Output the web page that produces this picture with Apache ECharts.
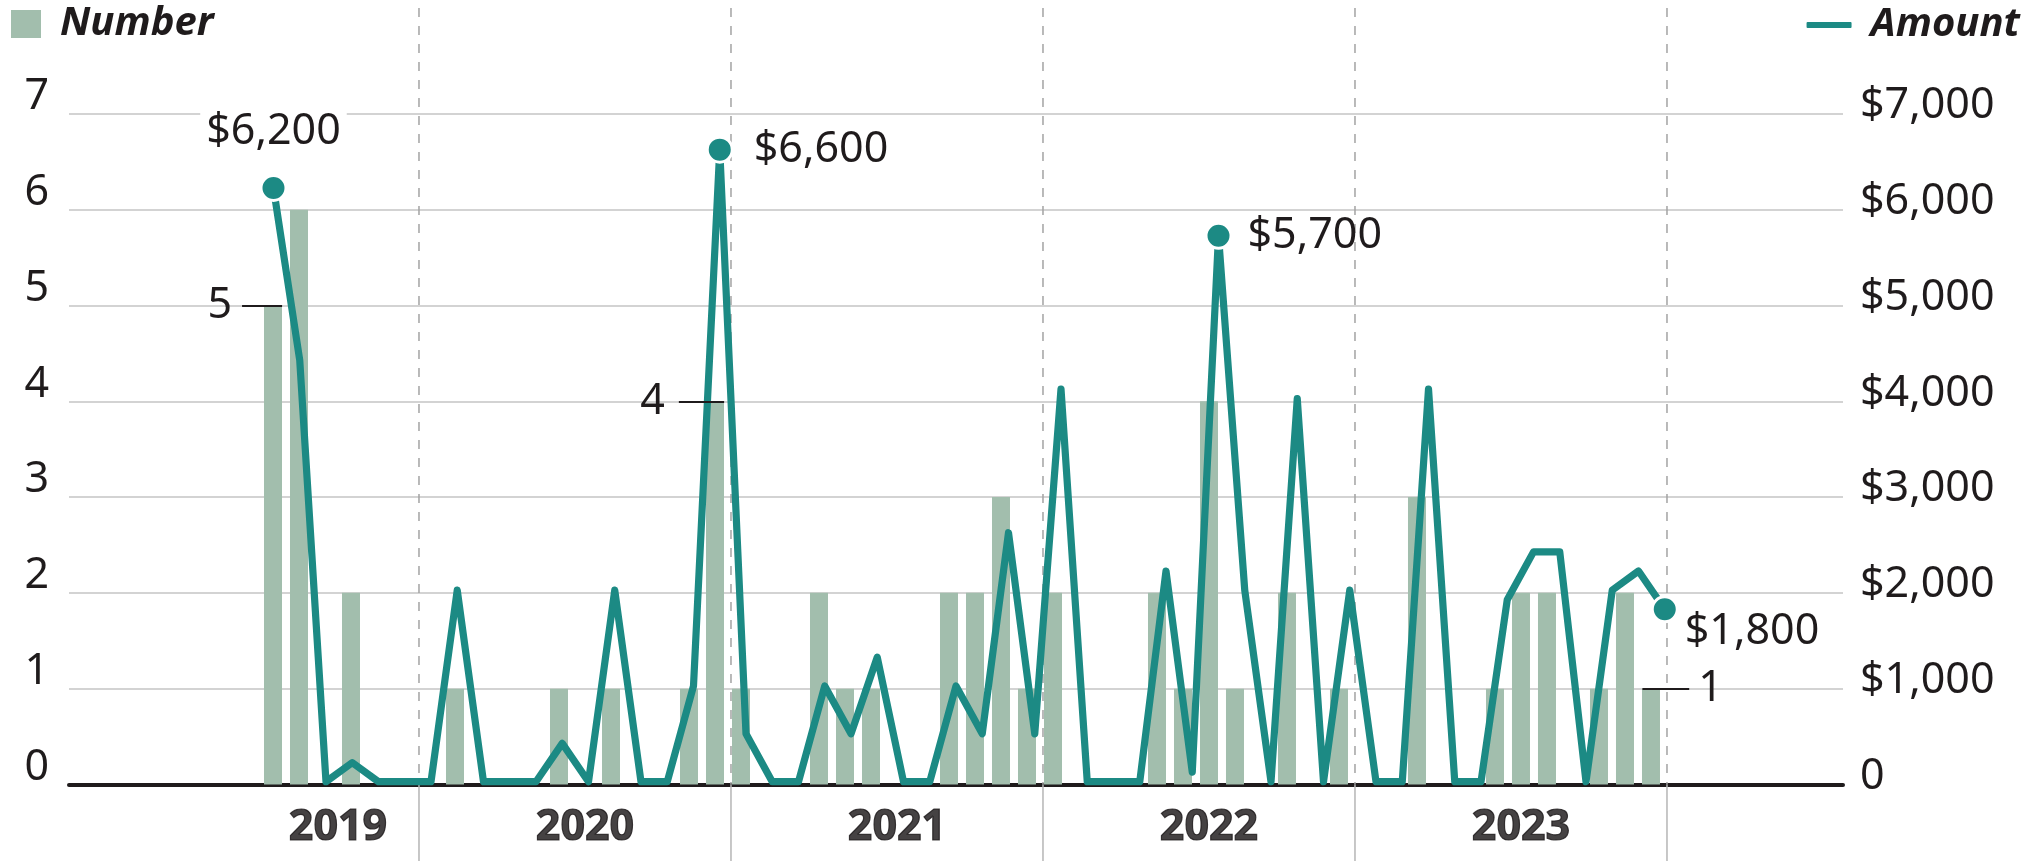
<!DOCTYPE html>
<html>
<head>
<meta charset="utf-8">
<style>
  html, body { margin: 0; padding: 0; background: #fff; }
  #chart { width: 2040px; height: 861px; }
</style>
<script src="https://cdn.jsdelivr.net/npm/echarts@6/dist/echarts.min.js"></script>
</head>
<body>
<div id="chart"></div>
<script>
// ---------------- DATA ----------------
// Bars: number of cases per month (months with no bar have 0)
const countMonths = ['2019-07','2019-08','2019-10','2020-02','2020-06','2020-08','2020-11','2020-12',
                     '2021-01','2021-04','2021-05','2021-06','2021-09','2021-10','2021-11','2021-12',
                     '2022-01','2022-05','2022-06','2022-07','2022-08','2022-10','2022-12',
                     '2023-03','2023-06','2023-07','2023-08','2023-10','2023-11','2023-12'];
const countValues = [5,6,2,1,1,1,1,4,
                     1,2,1,1,2,2,3,1,
                     2,2,1,4,1,2,1,
                     3,1,2,2,1,2,1];

// Line: amount per month, July 2019 .. December 2023
const amountStart = '2019-07';
const amount2019 = [6200, 4400, 0, 200, 0, 0];
const amount2020 = [0, 2000, 0, 0, 0, 400, 0, 2000, 0, 0, 1000, 6600];
const amount2021 = [500, 0, 0, 1000, 500, 1300, 0, 0, 1000, 500, 2600, 500];
const amount2022 = [4100, 0, 0, 0, 2200, 100, 5700, 2000, 0, 4000, 0, 2000];
const amount2023 = [0, 0, 4100, 0, 0, 1900, 2400, 2400, 0, 2000, 2200, 1800];

const yearLabels = ['2019', '2020', '2021', '2022', '2023'];
const leftTicks = [0, 1, 2, 3, 4, 5, 6, 7];
const rightTicks = [0, 1000, 2000, 3000, 4000, 5000, 6000, 7000];

const highlightedAmounts = ['2019-07', '2020-12', '2022-07', '2023-12'];
const annotatedCounts = ['2019-07', '2020-12', '2023-12'];

// ---------------- HELPERS ----------------
const amountValues = [].concat(amount2019, amount2020, amount2021, amount2022, amount2023);
const baseYear = +yearLabels[0];
function monthIndex(s) { const [y, m] = s.split('-').map(Number); return (y - baseYear) * 12 + (m - 1); }
const amountStartIdx = monthIndex(amountStart);
const fmtMoney = v => v === 0 ? '0' : '$' + v.toLocaleString('en-US');

const TEAL = '#1c8a84';
const SAGE = '#a2bead';
const INK = '#1f1b1c';
const FONT = 'Noto Sans';
const janOffset = -0.385; // where Jan 1 falls relative to month bar centres

// bar data
const barData = countMonths.map((s, i) => [monthIndex(s), countValues[i]]);

// line data (own x scale, index from first month)
const labelCfg = {
  '2019-07': { position: 'top', distance: 20, backgroundColor: '#fff', padding: [4, 6, 0, 6] },
  '2020-12': { position: 'right', distance: 20 },
  '2022-07': { position: 'right', distance: 15 },
  '2023-12': { position: 'right', distance: 6, offset: [0, 22] }
};
const lineData = amountValues.map((v, j) => {
  const mIdx = amountStartIdx + j;
  const key = (baseYear + Math.floor(mIdx / 12)) + '-' + String(mIdx % 12 + 1).padStart(2, '0');
  if (highlightedAmounts.includes(key)) {
    return {
      value: [j, v], symbol: 'circle', symbolSize: 25,
      label: Object.assign({ show: true, formatter: fmtMoney(v), fontSize: 43, color: INK,
        fontFamily: FONT, lineHeight: 44 }, labelCfg[key])
    };
  }
  return { value: [j, v], symbol: 'none' };
});

// annotation lines for selected bars
const annoGeom = {
  '2019-07': { from: -1.19, to: 0.35, pos: 'start', dist: 10 },
  '2020-12': { from: -1.39, to: 0.35, pos: 'start', dist: 14 },
  '2023-12': { from: -0.33, to: 1.47, pos: 'end', dist: 9 }
};
const annoData = annotatedCounts.map(s => {
  const m = monthIndex(s);
  const v = countValues[countMonths.indexOf(s)];
  const g = annoGeom[s];
  return [
    { coord: [m + g.from, v], label: { show: true, position: g.pos, distance: g.dist, formatter: String(v) } },
    { coord: [m + g.to, v] }
  ];
});

// year labels: centred on July for full years, on the covered months for partial years
const yearLabelData = yearLabels.map(y => {
  const start = (+y - baseYear) * 12;
  const lo = Math.max(start, amountStartIdx);
  const pos = lo > start ? (lo + start + 11) / 2 : start + 6;
  return { value: [pos, 0], label: { formatter: y } };
});

// year separators (Jan 1 of each following year)
const sepData = yearLabels.map(y => [(+y - baseYear + 1) * 12 + janOffset, 0]);

// ---------------- CHART ----------------
const chart = echarts.init(document.getElementById('chart'), null, { renderer: 'canvas' });
chart.setOption({
  animation: false,
  backgroundColor: '#fff',
  textStyle: { fontFamily: FONT },
  grid: { left: 69, right: 197, top: 114, height: 670.4, containLabel: false },
  legend: [
    {
      data: [{ name: 'Number', icon: 'rect' }],
      left: 11, top: 4, padding: 0, itemWidth: 30, itemHeight: 28, selectedMode: false,
      textStyle: { fontSize: 40, fontWeight: 'bold', fontStyle: 'italic', color: INK,
        fontFamily: FONT, padding: [0, 0, 0, 14] }
    },
    {
      data: [{ name: 'Amount', icon: 'roundRect' }],
      right: 20, top: 5, padding: 0, itemWidth: 47, itemHeight: 8, selectedMode: false,
      textStyle: { fontSize: 40, fontWeight: 'bold', fontStyle: 'italic', color: INK,
        fontFamily: FONT, padding: [0, 0, 0, 13] }
    }
  ],
  xAxis: [
    {
      type: 'value', min: -1.846, max: 66.385,
      axisLine: { show: true, onZero: true, lineStyle: { color: INK, width: 4 } },
      axisTick: { show: false }, axisLabel: { show: false }, splitLine: { show: false }
    },
    { type: 'value', min: -7.79, max: 59.79, show: false }
  ],
  yAxis: [
    {
      type: 'value', min: leftTicks[0], max: leftTicks[leftTicks.length - 1], interval: 1, position: 'left',
      axisLine: { show: false }, axisTick: { show: false },
      splitLine: { lineStyle: { color: '#c4c4c4', width: 1.5 } },
      axisLabel: { fontSize: 43, color: INK, fontFamily: FONT, margin: 20,
        verticalAlign: 'bottom', lineHeight: 34 }
    },
    {
      type: 'value', min: rightTicks[0], max: rightTicks[rightTicks.length - 1], interval: 1000, position: 'right',
      axisLine: { show: false }, axisTick: { show: false }, splitLine: { show: false },
      axisLabel: { fontSize: 43, color: INK, fontFamily: FONT, margin: 17, align: 'left',
        verticalAlign: 'bottom', lineHeight: 16, formatter: fmtMoney }
    },
    { type: 'value', min: -28, max: 6972, show: false }
  ],
  series: [
    {
      type: 'custom', name: 'separators', xAxisIndex: 0, yAxisIndex: 0, z: 1, silent: true, clip: false,
      data: sepData,
      renderItem: (params, api) => {
        const p = api.coord([api.value(0), 0]);
        const top = params.coordSys.y - 106;
        const h = api.getHeight();
        return {
          type: 'group', children: [
            { type: 'line', shape: { x1: p[0], y1: top, x2: p[0], y2: p[1] },
              style: { stroke: '#a3a3a3', lineWidth: 1.5, lineDash: [9, 9] } },
            { type: 'line', shape: { x1: p[0], y1: p[1], x2: p[0], y2: h },
              style: { stroke: '#b5b5b5', lineWidth: 1.5 } }
          ]
        };
      }
    },
    {
      type: 'bar', name: 'Number', xAxisIndex: 0, yAxisIndex: 0, z: 2,
      barWidth: 18, data: barData,
      itemStyle: { color: SAGE },
      markLine: {
        silent: true, symbol: ['none', 'none'], animation: false,
        lineStyle: { color: INK, width: 2, type: 'solid' },
        label: { fontSize: 43, color: INK, fontFamily: FONT },
        emphasis: { disabled: true },
        data: annoData
      }
    },
    {
      type: 'line', name: 'Amount', xAxisIndex: 1, yAxisIndex: 2, z: 3,
      data: lineData, symbol: 'none', showSymbol: true,
      lineStyle: { color: TEAL, width: 7.2, join: 'round', cap: 'round' },
      itemStyle: { color: TEAL, borderColor: '#fff', borderWidth: 3 },
      emphasis: { disabled: true }
    },
    {
      type: 'scatter', name: 'years', xAxisIndex: 0, yAxisIndex: 0, z: 4, silent: true, clip: false,
      symbolSize: 0, data: yearLabelData,
      label: { show: true, position: 'bottom', distance: 21, fontSize: 43, fontWeight: 'bold',
        color: '#161314', textBorderColor: '#161314', textBorderWidth: 1.2,
        fontFamily: FONT, lineHeight: 44 }
    }
  ]
});
</script>
</body>
</html>
